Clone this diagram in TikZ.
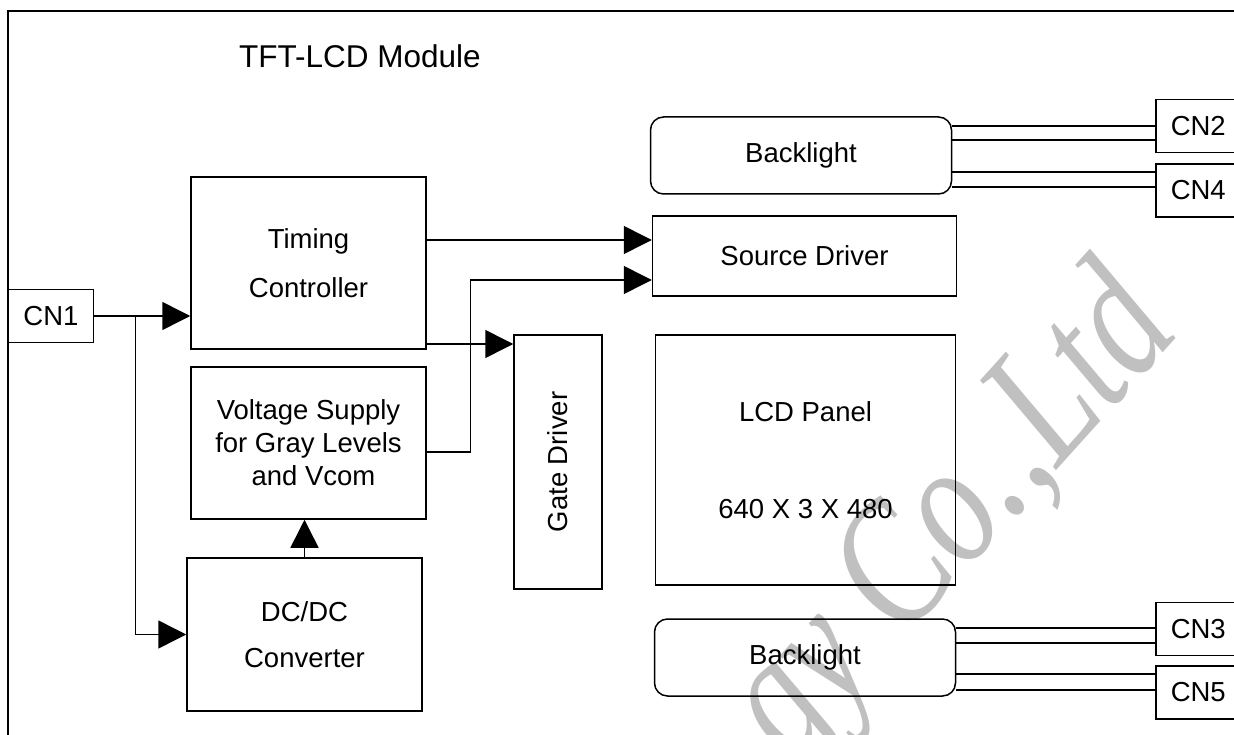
\documentclass[tikz,border=0pt]{standalone}
\usepackage{fontspec}
\setmainfont{Liberation Sans}
\newfontfamily\markfont{Liberation Serif}[FakeStretch=0.78]
\usetikzlibrary{arrows.meta,%
                positioning}
\definecolor{markgray}{RGB}{192,192,192}

\tikzset{
  blk/.style={draw, line width=1.5pt, inner sep=0pt, align=center,
              font=\fontsize{27.5}{33}\selectfont},
  lamp/.style={blk, rounded corners=13pt},
  conn/.style={blk, minimum width=85pt, minimum height=53pt},
  rconn/.style={conn, anchor=west, text width=120pt, inner xsep=15pt, align=left},
  flow/.style={line width=1.5pt, -{Triangle[length=28pt,width=28pt]}},
  wire/.style={line width=1.5pt}
}

\begin{document}
\begin{tikzpicture}[x=1pt,y=-1pt]
\useasboundingbox (0,0) rectangle (1234,735);
\clip (0,0) rectangle (1234,735);

% watermark and frame
\node[text=markgray, rotate=48, font=\markfont\itshape\fontsize{178}{178}\selectfont] (mark) at (955,520) {gy Co.,Ltd};
\draw[wire] (8,11) rectangle (1300,800);
\node[font=\fontsize{31.5}{36}\selectfont] (title) at (360,56) {TFT-LCD Module};

% blocks
\node[conn] (CN1) at (51,316) {CN1};
\node[blk, minimum width=235pt, minimum height=172pt] (TC) at (308.5,263) {Timing\\[16pt]Controller};
\node[blk, minimum width=235pt, minimum height=152pt] (VS) at (308.5,443) {Voltage Supply\\for Gray Levels\\\hspace*{10pt}and Vcom};
\node[blk, minimum width=235pt, minimum height=153pt] (DC) at (304.5,634.5) {DC/DC\\[13pt]Converter};
\node[blk, rotate=90, minimum width=254pt, minimum height=88pt] (GD) at (558,462) {Gate Driver};
\node[blk, minimum width=304pt, minimum height=80pt] (SD) at (804.5,256) {Source Driver};
\node[blk, minimum width=300pt, minimum height=250pt] (LCD) at (805.5,460) {LCD Panel\\[64pt]640 X 3 X 480};
\node[lamp, minimum width=301pt, minimum height=77pt] (BLa) at (801,155.5) {Backlight};
\node[lamp, minimum width=301pt, minimum height=77pt] (BLb) at (805,657.5) {Backlight};
\node[rconn] (CN2) at (1155,126) {CN2};
\node[rconn] (CN4) at (1155,190.5) {CN4};
\node[rconn] (CN3) at (1155,629) {CN3};
\node[rconn] (CN5) at (1155,692.5) {CN5};

% signals
\draw[flow] (CN1.east) -- coordinate[pos=0.43] (j1) (CN1.east -| TC.west);
\draw[flow] (j1) |- (DC.west);
\draw[flow] (DC.north) -- (DC.north |- VS.south);
\draw[flow] ([yshift=23pt]TC.east) coordinate (t1) -- (t1 -| SD.west);
\draw[flow] ([yshift=-81pt]TC.east) coordinate (t2) -- (t2 -| GD.north);
\draw[flow] ([yshift=-9pt]VS.east) -| ([xshift=-181.5pt,yshift=-24pt]SD.west) -- ([yshift=-24pt]SD.west);

% lamp wires
\foreach \d/\c in {29.5/CN2, 15.5/CN2, -16.5/CN4, -31.5/CN4}
  \draw[wire] ([yshift=\d pt]BLa.east) coordinate (w) -- (w -| \c.west);
\foreach \d/\c in {29.5/CN3, 14.5/CN3, -16.5/CN5, -32.5/CN5}
  \draw[wire] ([yshift=\d pt]BLb.east) coordinate (w) -- (w -| \c.west);

\end{tikzpicture}
\end{document}
